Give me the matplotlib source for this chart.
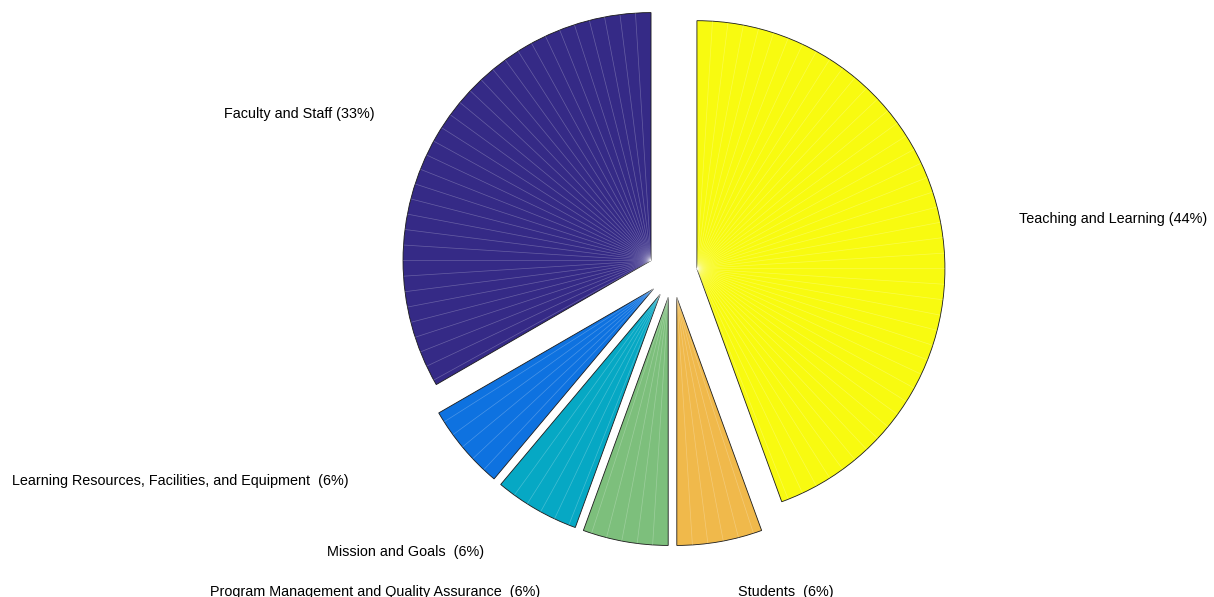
import matplotlib
matplotlib.use("Agg")
import matplotlib.pyplot as plt
import numpy as np
from matplotlib.collections import LineCollection

plt.rcParams["font.family"] = ["Liberation Sans", "DejaVu Sans"]

# counts out of 18 criteria
categories = [
    "Teaching and Learning (44%)",
    "Students  (6%)",
    "Program Management and Quality Assurance  (6%)",
    "Mission and Goals  (6%)",
    "Learning Resources, Facilities, and Equipment  (6%)",
    "Faculty and Staff (33%)",
]
counts = [8, 1, 1, 1, 1, 6]
colors = ["#F8FA10", "#F0B94B", "#7DBF7C", "#06A8C4", "#0E72E0", "#352A86"]

# label anchor points (in units of pie radius) and alignment
label_xy = [
    (1.397, 0.218),
    (0.264, -1.285),
    (-0.534, -1.285),
    (-0.760, -1.126),
    (-1.304, -0.840),
    (-1.200, 0.640),
]
label_ha = ["left", "left", "right", "right", "right", "right"]

fig = plt.figure(figsize=(12.14, 5.97), dpi=100)
ax = fig.add_axes([0, 0, 1, 1])

wedges, _ = ax.pie(
    counts,
    colors=colors,
    explode=[0.1] * len(counts),
    startangle=90,
    counterclock=False,
    radius=1.0,
    wedgeprops=dict(edgecolor="#1a1a1a", linewidth=0.6),
)

# faint radial seams like the reference rendering
step = 3.6
for w in wedges:
    cx, cy = w.center
    t1, t2 = sorted((w.theta1, w.theta2))
    angs = np.arange(np.ceil(t1 / step) * step, t2, step)
    angs = angs[(angs > t1 + 0.5) & (angs < t2 - 0.5)]
    segs = [[(cx, cy), (cx + w.r * np.cos(np.radians(a)), cy + w.r * np.sin(np.radians(a)))]
            for a in angs]
    ax.add_collection(LineCollection(segs, colors="white", linewidths=0.5, alpha=0.25, zorder=3))

for txt, (x, y), ha in zip(categories, label_xy, label_ha):
    ax.text(x, y, txt, ha=ha, va="center", fontsize=10.4, color="black")

ax.set_xlim(-672.5 / 248, (1214 - 672.5) / 248)
ax.set_ylim((273 - 597) / 248, 273 / 248)
ax.set_aspect("auto")
ax.axis("off")

fig.savefig("out.png", dpi=100, facecolor="white")
